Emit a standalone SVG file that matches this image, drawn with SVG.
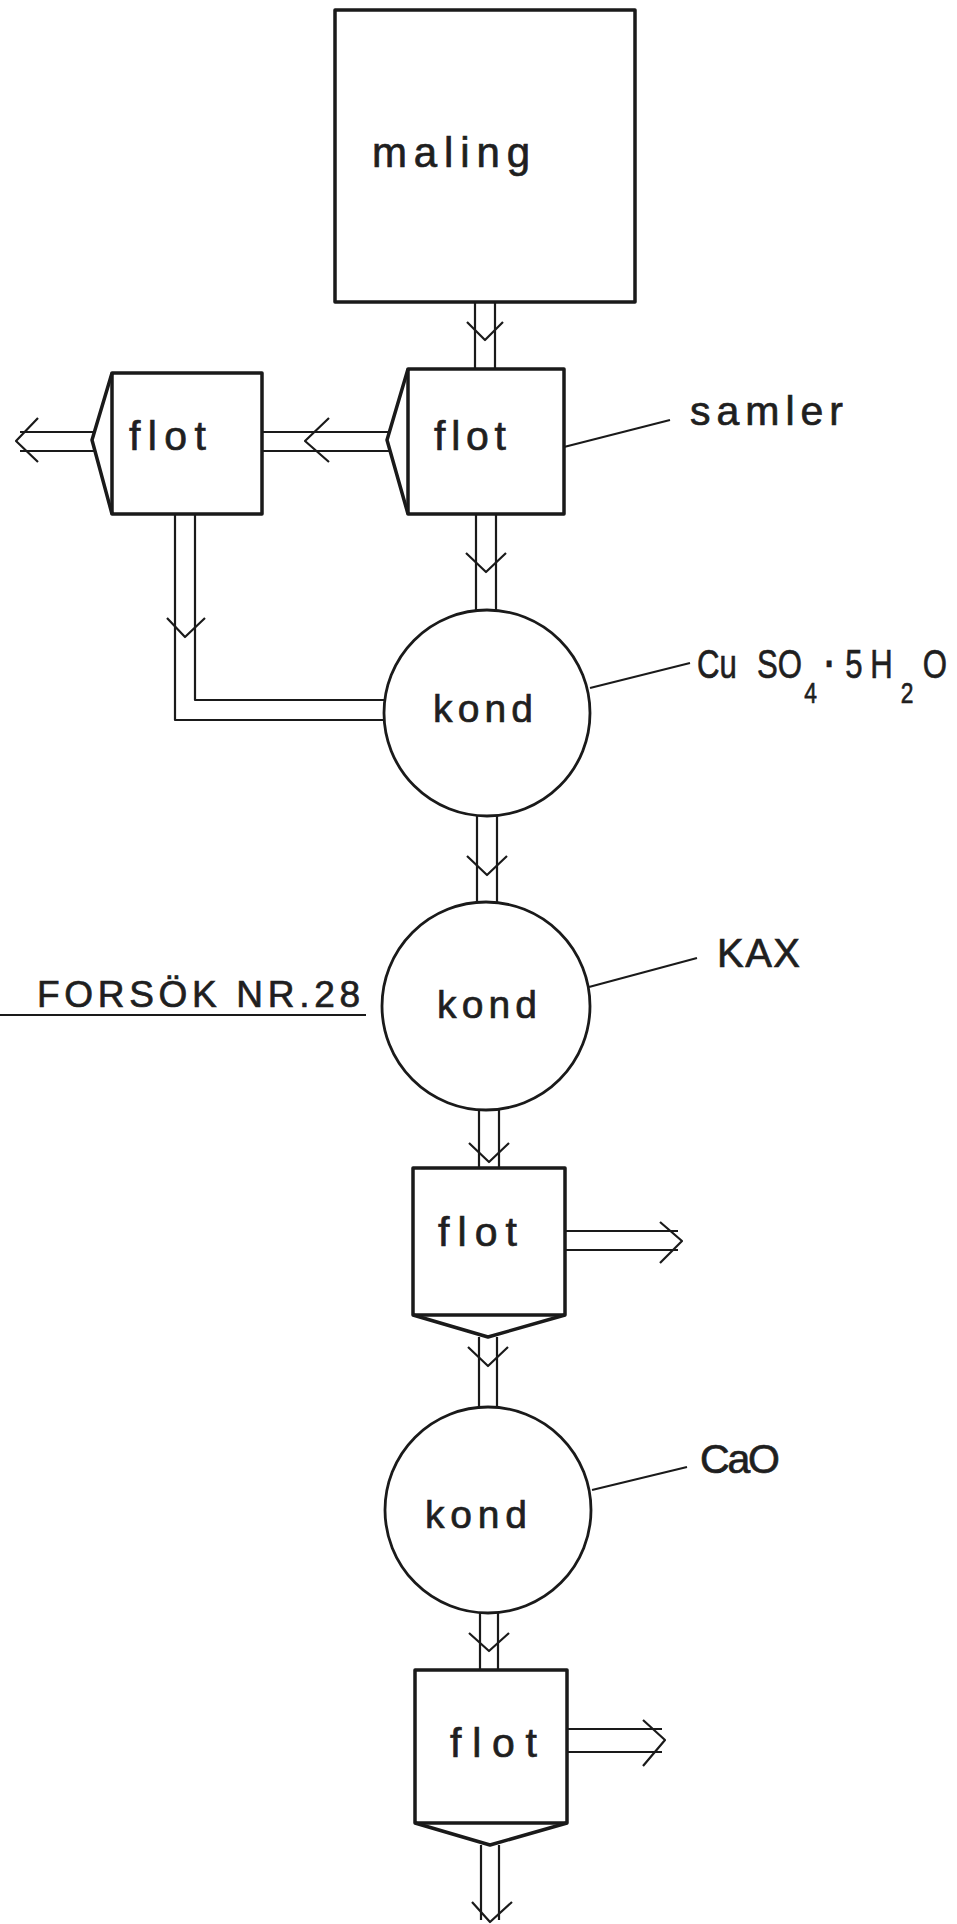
<svg xmlns="http://www.w3.org/2000/svg" width="957" height="1924" viewBox="0 0 957 1924">
<style>
.box{fill:none;stroke:#1a1a1a;stroke-width:3.5;stroke-linejoin:round}
.circ{fill:none;stroke:#1a1a1a;stroke-width:2.8}
.pipe{fill:none;stroke:#1a1a1a;stroke-width:2.2;stroke-linejoin:round}
.lead{fill:none;stroke:#1a1a1a;stroke-width:2.2}
.t{font-family:"Liberation Sans",Arial,sans-serif;fill:#1f1f1f;stroke:#1f1f1f;stroke-width:0.7}
</style>
<rect width="957" height="1924" fill="#ffffff"/>
<g id="maling">
<rect class="box" x="335" y="10" width="300" height="292"/>
<text class="t" x="372" y="167" font-size="42" textLength="158" lengthAdjust="spacing">maling</text>
</g>
<g id="flot1">
<rect class="box" x="112" y="373" width="150" height="141"/>
<polyline class="box" points="112,373 92,440 112,514"/>
<text class="t" x="129" y="450" font-size="41" textLength="77" lengthAdjust="spacing">flot</text>
</g>
<g id="flot2">
<rect class="box" x="408" y="369" width="156" height="145"/>
<polyline class="box" points="408,369 387,440 408,514"/>
<text class="t" x="434" y="450" font-size="41" textLength="72" lengthAdjust="spacing">flot</text>
</g>
<g id="kond1">
<circle class="circ" cx="487" cy="713" r="103"/>
<text class="t" x="433" y="722" font-size="39" textLength="100" lengthAdjust="spacing">kond</text>
</g>
<g id="kond2">
<circle class="circ" cx="486" cy="1006" r="104"/>
<text class="t" x="437" y="1018" font-size="39" textLength="100" lengthAdjust="spacing">kond</text>
</g>
<g id="flot3">
<rect class="box" x="413" y="1168" width="152" height="147"/>
<polyline class="box" points="413,1315 488,1337 565,1315"/>
<text class="t" x="438" y="1246" font-size="41" textLength="79" lengthAdjust="spacing">flot</text>
</g>
<g id="kond3">
<circle class="circ" cx="488" cy="1510" r="103"/>
<text class="t" x="425" y="1528" font-size="39" textLength="102" lengthAdjust="spacing">kond</text>
</g>
<g id="flot4">
<rect class="box" x="415" y="1670" width="152" height="153"/>
<polyline class="box" points="415,1823 490,1845 567,1823"/>
<text class="t" x="450" y="1757" font-size="41" textLength="87" lengthAdjust="spacing">flot</text>
</g>
<g id="label-samler">
<text class="t" x="690" y="425" font-size="41" textLength="153" lengthAdjust="spacing">samler</text>
</g>
<g id="label-cuso4">
<text class="t" font-size="41" transform="translate(697,0) scale(0.76,1)"><tspan x="0" y="678">Cu</tspan><tspan x="79" y="678">SO</tspan><tspan x="141" y="703" font-size="30">4</tspan><tspan x="168" y="678" font-weight="bold">·</tspan><tspan x="195" y="678">5</tspan><tspan x="228" y="678">H</tspan><tspan x="268" y="703" font-size="30">2</tspan><tspan x="297" y="678">O</tspan></text>
</g>
<g id="label-kax">
<text class="t" x="717" y="967" font-size="40" textLength="83" lengthAdjust="spacing">KAX</text>
</g>
<g id="label-cao">
<text class="t" x="700" y="1473" font-size="41" textLength="80" lengthAdjust="spacing">CaO</text>
</g>
<g id="title">
<text class="t" x="37" y="1007" font-size="37" textLength="323" lengthAdjust="spacing">FORSÖK NR.28</text>
<line class="lead" x1="0" y1="1015" x2="366" y2="1015"/>
</g>
<g id="connectors">
<line class="lead" x1="564" y1="447" x2="670" y2="420"/>
<line class="lead" x1="590" y1="688" x2="690" y2="663"/>
<line class="lead" x1="589" y1="987" x2="697" y2="958"/>
<line class="lead" x1="592" y1="1490" x2="687" y2="1467"/>
<path class="pipe" d="M475,302V369M495,302V369"/>
<polyline class="pipe" points="467,322 485,340 503,322"/>
<path class="pipe" d="M262,432H390M262,451H390"/>
<polyline class="pipe" points="329,418 305,441 329,462"/>
<path class="pipe" d="M20,432H95M20,451H95"/>
<polyline class="pipe" points="38,418 16,441 38,462"/>
<path class="pipe" d="M476,514V611M496,514V611"/>
<polyline class="pipe" points="466,553 486,572 506,553"/>
<path class="pipe" d="M175,514V720H385M195,514V700H386"/>
<polyline class="pipe" points="167,618 185,637 205,618"/>
<path class="pipe" d="M477,815V903M497,815V903"/>
<polyline class="pipe" points="467,856 487,875 507,856"/>
<path class="pipe" d="M479,1109V1168M499,1109V1168"/>
<polyline class="pipe" points="469,1143 489,1162 509,1143"/>
<path class="pipe" d="M565,1231H678M565,1250H678"/>
<polyline class="pipe" points="660,1222 682,1241 660,1263"/>
<path class="pipe" d="M479,1337V1408M497,1337V1408"/>
<polyline class="pipe" points="468,1347 488,1366 508,1347"/>
<path class="pipe" d="M480,1612V1670M498,1612V1670"/>
<polyline class="pipe" points="469,1633 489,1651 509,1633"/>
<path class="pipe" d="M567,1729H662M567,1752H662"/>
<polyline class="pipe" points="643,1720 665,1740 643,1766"/>
<path class="pipe" d="M481,1845V1920M499,1845V1920"/>
<polyline class="pipe" points="472,1902 490,1922 512,1902"/>
</g>
</svg>
